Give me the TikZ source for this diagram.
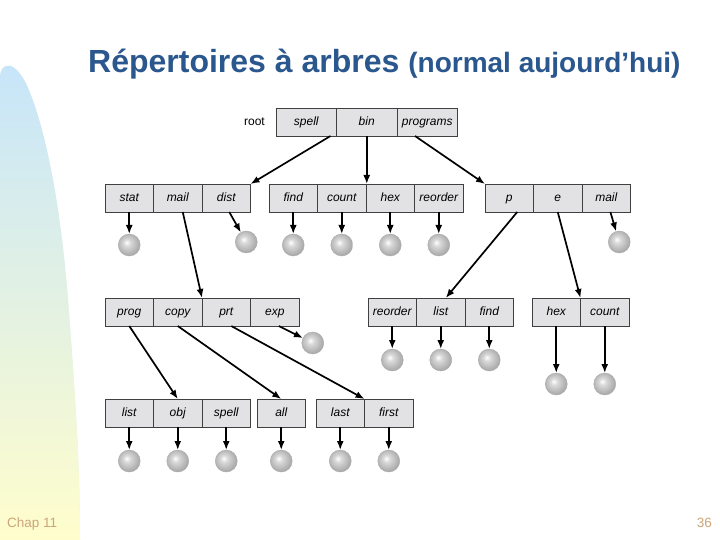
\documentclass[tikz,border=0pt]{standalone}
\usepackage{fontspec}
\setmainfont{Liberation Sans}
\usetikzlibrary{positioning,arrows.meta}
\definecolor{titleBlue}{RGB}{42,87,141}
\definecolor{boxGray}{RGB}{226,226,229}
\definecolor{sideBlue}{RGB}{198,229,250}
\definecolor{sideYellow}{RGB}{255,253,204}
\definecolor{footTan}{RGB}{205,165,120}
\pgfdeclareradialshading{leafball}{\pgfpoint{-6bp}{6bp}}{%
    color(0bp)=(white); color(8bp)=(gray!30); color(30bp)=(gray!75); color(50bp)=(gray!75)}

\begin{document}
\begin{tikzpicture}[
    x=1pt, y=-1pt,
    cell/.style={
        draw=black!75, line width=0.8pt, fill=boxGray, inner sep=0pt, outer sep=0pt,
        minimum width=48.5pt, minimum height=28pt, text height=10pt, text depth=3pt,
        font=\fontsize{12}{14}\selectfont\itshape
    },
    wide/.style={minimum width=60.5pt},
    leaf/.style={
        circle, draw=gray!65, shading=leafball,
        minimum size=22pt, inner sep=0pt, outer sep=0pt
    },
    arrow/.style={-{Latex[length=9pt,width=7pt]}, line width=1.7pt, color=black}
]
    \useasboundingbox (0,0) rectangle (720,540);
    \fill[white] (0,0) rectangle (720,540);
    % side band
    \fill[sideBlue!50!sideYellow]
        (0,540) -- (0,78) .. controls (0,62) and (15,58) .. (28,88)
        .. controls (45,128) and (60,200) .. (68,300)
        .. controls (74,380) and (80,460) .. (80,540) -- cycle;
    \shade[top color=sideBlue, bottom color=sideYellow]
        (0,540) -- (0,78) .. controls (0,62) and (15,58) .. (28,88)
        .. controls (45,128) and (60,200) .. (68,300)
        .. controls (74,380) and (80,460) .. (80,540) -- cycle;

    \node[anchor=base west, inner sep=0pt, text=titleBlue, font=\fontsize{32}{36}\selectfont\bfseries] (title) at (88,73)
        {Répertoires à arbres {\fontsize{28}{32}\selectfont (normal aujourd’hui)}};
    \node[anchor=base west, inner sep=0pt, text=footTan, font=\fontsize{13.5}{16}\selectfont] (chap) at (7,527) {Chap 11};
    \node[anchor=base east, inner sep=0pt, text=footTan, font=\fontsize{13.5}{16}\selectfont] (page) at (712,527) {36};

    % root
    \node[cell, wide, anchor=north west] (spell) at (276,108) {spell};
    \node[cell, wide, right=0pt of spell] (bin) {bin};
    \node[cell, wide, right=0pt of bin] (programs) {programs};
    \node[left=11pt of spell, inner sep=0pt, font=\fontsize{12}{14}\selectfont] (root) {root};

    % second level
    \node[cell, anchor=north west] (stat) at (105,184) {stat};
    \node[cell, right=0pt of stat] (mail) {mail};
    \node[cell, right=0pt of mail] (dist) {dist};
    \node[cell, anchor=north west] (find) at (269,184) {find};
    \node[cell, right=0pt of find] (count) {count};
    \node[cell, right=0pt of count] (hex) {hex};
    \node[cell, right=0pt of hex] (reorder) {reorder};
    \node[cell, anchor=north west] (p) at (485,184) {p};
    \node[cell, right=0pt of p] (e) {e};
    \node[cell, right=0pt of e] (pmail) {mail};

    % third level
    \node[cell, anchor=north west] (prog) at (105,298) {prog};
    \node[cell, right=0pt of prog] (copy) {copy};
    \node[cell, right=0pt of copy] (prt) {prt};
    \node[cell, right=0pt of prt] (exp) {exp};
    \node[cell, anchor=north west] (pReorder) at (368,298) {reorder};
    \node[cell, right=0pt of pReorder] (pList) {list};
    \node[cell, right=0pt of pList] (pFind) {find};
    \node[cell, anchor=north west] (eHex) at (532,298) {hex};
    \node[cell, right=0pt of eHex] (eCount) {count};

    % fourth level
    \node[cell, anchor=north west] (cList) at (105,399) {list};
    \node[cell, right=0pt of cList] (cObj) {obj};
    \node[cell, right=0pt of cObj] (cSpell) {spell};
    \node[cell, anchor=north west] (all) at (257,399) {all};
    \node[cell, anchor=north west] (last) at (316,399) {last};
    \node[cell, right=0pt of last] (first) {first};

    % files
    \node[leaf, below=22pt of stat] (statL) {};
    \node[leaf, below=19pt of dist, xshift=20pt] (distL) {};
    \node[leaf, below=22pt of find] (findL) {};
    \node[leaf, below=22pt of count] (countL) {};
    \node[leaf, below=22pt of hex] (hexL) {};
    \node[leaf, below=22pt of reorder] (reorderL) {};
    \node[leaf, below=19pt of pmail, xshift=13pt] (pmailL) {};
    \node[leaf, below=6pt of exp, xshift=38pt] (expL) {};
    \node[leaf, below=23pt of pReorder] (pReorderL) {};
    \node[leaf, below=23pt of pList] (pListL) {};
    \node[leaf, below=23pt of pFind] (pFindL) {};
    \node[leaf, below=47pt of eHex] (eHexL) {};
    \node[leaf, below=47pt of eCount] (eCountL) {};
    \node[leaf, below=23pt of cList] (cListL) {};
    \node[leaf, below=23pt of cObj] (cObjL) {};
    \node[leaf, below=23pt of cSpell] (cSpellL) {};
    \node[leaf, below=23pt of all] (allL) {};
    \node[leaf, below=23pt of last] (lastL) {};
    \node[leaf, below=23pt of first] (firstL) {};

    % directories
    \draw[arrow] ([xshift=-6pt]spell.south east) -- (dist.north east);
    \draw[arrow] (bin.south) -- (bin.south |- count.north);
    \draw[arrow] ([xshift=18pt]programs.south west) -- (p.north west);
    \draw[arrow] ([xshift=5pt]mail.south) -- (copy.north east);
    \draw[arrow] ([xshift=8pt]p.south) -- ([xshift=5pt]pList.north);
    \draw[arrow] (e.south) -- (eHex.north east);
    \draw[arrow] (prog.south) -- (cObj.north);
    \draw[arrow] (copy.south) -- (all.north);
    \draw[arrow] ([xshift=5pt]prt.south) -- (last.north east);

    % to files
    \draw[arrow] (stat) -- (statL);
    \draw[arrow] ([xshift=3pt]dist.south) -- (distL);
    \draw[arrow] (find) -- (findL);
    \draw[arrow] (count) -- (countL);
    \draw[arrow] (hex) -- (hexL);
    \draw[arrow] (reorder) -- (reorderL);
    \draw[arrow] (pmail) -- (pmailL);
    \draw[arrow] ([xshift=4pt]exp.south) -- (expL);
    \draw[arrow] (pReorder) -- (pReorderL);
    \draw[arrow] (pList) -- (pListL);
    \draw[arrow] (pFind) -- (pFindL);
    \draw[arrow] (eHex) -- (eHexL);
    \draw[arrow] (eCount) -- (eCountL);
    \draw[arrow] (cList) -- (cListL);
    \draw[arrow] (cObj) -- (cObjL);
    \draw[arrow] (cSpell) -- (cSpellL);
    \draw[arrow] (all) -- (allL);
    \draw[arrow] (last) -- (lastL);
    \draw[arrow] (first) -- (firstL);
\end{tikzpicture}
\end{document}
